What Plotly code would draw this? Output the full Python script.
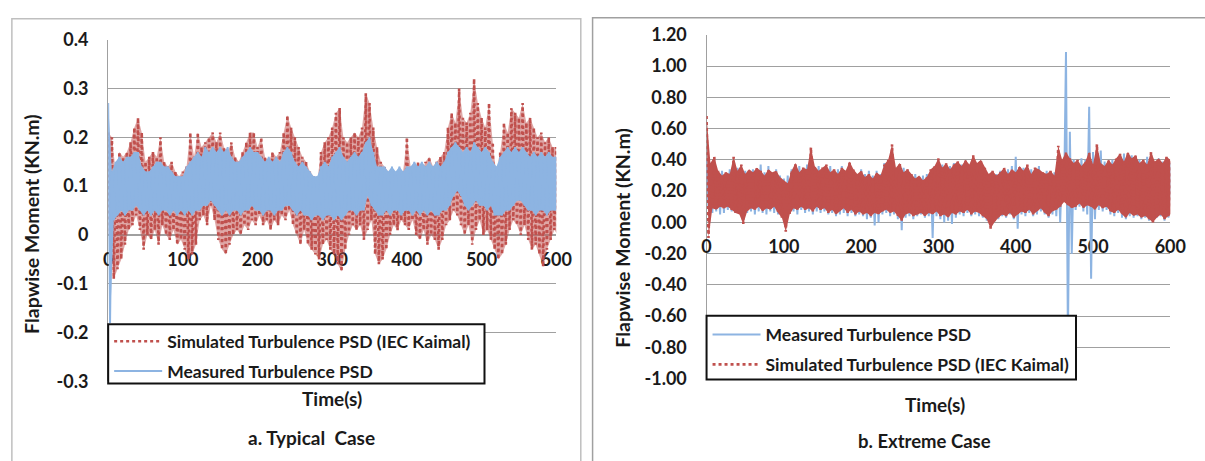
import plotly.graph_objects as go

# ---------------- data ----------------
# sample times (s); each sample holds the local peak (hi) and trough (lo)
TIME = list(range(0, 601, 5))

# Panel a - Typical case
A_SIM_HI = [0.21, 0.20, 0.13, 0.17, 0.16, 0.17, 0.19, 0.22, 0.24, 0.21,
            0.15, 0.16, 0.17, 0.16, 0.20, 0.15, 0.14, 0.15, 0.13, 0.12,
            0.13, 0.14, 0.21, 0.16, 0.21, 0.18, 0.19, 0.20, 0.21, 0.19,
            0.21, 0.18, 0.17, 0.19, 0.16, 0.15, 0.17, 0.19, 0.21, 0.21,
            0.18, 0.20, 0.16, 0.15, 0.17, 0.16, 0.17, 0.21, 0.245, 0.22,
            0.20, 0.18, 0.16, 0.15, 0.13, 0.12, 0.11, 0.17, 0.19, 0.20,
            0.22, 0.25, 0.26, 0.20, 0.19, 0.20, 0.21, 0.20, 0.22, 0.29,
            0.27, 0.22, 0.18, 0.15, 0.14, 0.13, 0.13, 0.12, 0.13, 0.13,
            0.20, 0.14, 0.13, 0.15, 0.13, 0.15, 0.16, 0.14, 0.15, 0.16,
            0.17, 0.22, 0.25, 0.23, 0.30, 0.24, 0.23, 0.25, 0.32, 0.27,
            0.24, 0.22, 0.27, 0.19, 0.12, 0.17, 0.23, 0.21, 0.26, 0.25,
            0.24, 0.27, 0.23, 0.24, 0.22, 0.20, 0.21, 0.19, 0.20, 0.18,
            0.18]
A_SIM_LO = [0.00, -0.09, -0.07, -0.05, -0.02, 0.01, 0.02, 0.04, 0.01, -0.03,
            0.00, -0.01, 0.01, -0.02, 0.02, 0.00, -0.01, 0.01, -0.02, -0.01,
            -0.03, -0.05, -0.04, -0.02, 0.03, 0.04, 0.02, 0.06, 0.03, -0.01,
            -0.03, -0.04, -0.02, 0.00, 0.01, 0.00, 0.02, 0.01, 0.03, 0.02,
            0.04, 0.02, 0.03, 0.01, 0.03, 0.02, 0.04, 0.03, 0.05, 0.02,
            0.00, -0.02, 0.01, -0.02, -0.03, -0.04, -0.05, -0.02, -0.01, -0.03,
            -0.04, -0.06, -0.075, -0.03, 0.00, 0.02, 0.01, 0.02, -0.01, 0.01,
            0.03, -0.04, -0.06, -0.05, -0.03, 0.00, 0.02, 0.01, 0.03, 0.02,
            0.01, 0.03, 0.00, -0.01, 0.01, -0.02, 0.00, -0.01, -0.03, -0.01,
            0.02, 0.03, 0.05, 0.04, 0.02, 0.00, 0.02, -0.02, 0.01, 0.03,
            0.00, 0.01, -0.01, -0.03, -0.05, -0.04, -0.02, 0.01, 0.03, 0.02,
            0.00, 0.02, -0.01, -0.03, -0.02, -0.04, -0.065, -0.03, -0.01, 0.01,
            0.00]
A_MEA_HI = [0.27, 0.13, 0.15, 0.16, 0.15, 0.16, 0.16, 0.17, 0.17, 0.14,
            0.13, 0.13, 0.14, 0.15, 0.15, 0.14, 0.14, 0.13, 0.12, 0.12,
            0.12, 0.14, 0.15, 0.16, 0.17, 0.16, 0.18, 0.17, 0.18, 0.17,
            0.18, 0.17, 0.18, 0.16, 0.15, 0.15, 0.16, 0.17, 0.18, 0.17,
            0.17, 0.16, 0.15, 0.16, 0.15, 0.16, 0.15, 0.17, 0.18, 0.17,
            0.15, 0.14, 0.15, 0.14, 0.13, 0.12, 0.12, 0.14, 0.15, 0.14,
            0.16, 0.17, 0.18, 0.16, 0.15, 0.16, 0.17, 0.16, 0.17, 0.19,
            0.20, 0.17, 0.14, 0.14, 0.14, 0.13, 0.14, 0.13, 0.14, 0.13,
            0.14, 0.14, 0.15, 0.14, 0.15, 0.14, 0.15, 0.14, 0.15, 0.14,
            0.15, 0.17, 0.18, 0.19, 0.18, 0.17, 0.18, 0.17, 0.19, 0.18,
            0.17, 0.18, 0.17, 0.15, 0.14, 0.16, 0.17, 0.18, 0.17, 0.18,
            0.17, 0.18, 0.17, 0.16, 0.17, 0.16, 0.17, 0.16, 0.17, 0.16,
            0.16]
A_MEA_LO = [-0.18, 0.03, 0.04, 0.05, 0.04, 0.05, 0.05, 0.06, 0.05, 0.04,
            0.05, 0.04, 0.05, 0.04, 0.05, 0.05, 0.04, 0.05, 0.04, 0.05,
            0.04, 0.05, 0.04, 0.05, 0.05, 0.06, 0.06, 0.07, 0.06, 0.05,
            0.04, 0.05, 0.04, 0.05, 0.05, 0.04, 0.05, 0.05, 0.06, 0.05,
            0.05, 0.04, 0.05, 0.05, 0.04, 0.05, 0.05, 0.06, 0.06, 0.05,
            0.04, 0.05, 0.04, 0.04, 0.03, 0.04, 0.04, 0.03, 0.04, 0.04,
            0.03, 0.04, 0.03, 0.04, 0.05, 0.05, 0.04, 0.05, 0.05, 0.08,
            0.06, 0.05, 0.04, 0.04, 0.05, 0.04, 0.05, 0.05, 0.04, 0.05,
            0.05, 0.04, 0.05, 0.04, 0.05, 0.04, 0.05, 0.04, 0.04, 0.05,
            0.05, 0.06, 0.08, 0.09, 0.08, 0.06, 0.05, 0.06, 0.07, 0.06,
            0.06, 0.05, 0.06, 0.04, 0.04, 0.04, 0.05, 0.05, 0.06, 0.07,
            0.07, 0.06, 0.05, 0.05, 0.04, 0.05, 0.05, 0.04, 0.05, 0.05,
            0.05]

# Panel b - Extreme case
B_SIM_HI = [0.68, 0.38, 0.42, 0.33, 0.30, 0.32, 0.31, 0.42, 0.33, 0.37,
            0.31, 0.34, 0.32, 0.35, 0.33, 0.30, 0.34, 0.32, 0.33, 0.29,
            0.27, 0.25, 0.33, 0.38, 0.32, 0.35, 0.34, 0.48, 0.36, 0.33,
            0.35, 0.37, 0.32, 0.34, 0.31, 0.35, 0.33, 0.39, 0.34, 0.31,
            0.33, 0.29, 0.31, 0.28, 0.32, 0.30, 0.37, 0.40, 0.50, 0.35,
            0.38, 0.32, 0.34, 0.31, 0.28, 0.30, 0.27, 0.29, 0.34, 0.36,
            0.41, 0.35, 0.38, 0.34, 0.37, 0.39, 0.36, 0.40, 0.37, 0.43,
            0.38, 0.40, 0.35, 0.31, 0.33, 0.30, 0.32, 0.35, 0.31, 0.34,
            0.32, 0.36, 0.33, 0.37, 0.31, 0.35, 0.34, 0.32, 0.31, 0.33,
            0.30, 0.49, 0.40, 0.45, 0.41, 0.38, 0.40, 0.36, 0.39, 0.45,
            0.37, 0.50, 0.38, 0.36, 0.40, 0.37, 0.41, 0.44, 0.39, 0.45,
            0.41, 0.43, 0.38, 0.40, 0.37, 0.45, 0.39, 0.41, 0.38, 0.42,
            0.40]
B_SIM_LO = [-0.10, 0.09, 0.08, 0.10, 0.09, 0.10, 0.08, 0.06, 0.05, -0.01,
            0.07, 0.09, 0.08, 0.10, 0.07, 0.09, 0.08, 0.10, 0.06, 0.03,
            -0.06, 0.05, 0.09, 0.08, 0.10, 0.08, 0.09, 0.07, 0.10, 0.08,
            0.09, 0.06, 0.08, 0.05, 0.07, 0.09, 0.06, 0.08, 0.05, 0.07,
            0.05, 0.06, 0.04, 0.06, 0.05, 0.07, 0.08, 0.06, 0.07, 0.04,
            0.01, 0.05, 0.06, 0.04, 0.05, 0.06, 0.04, 0.06, 0.05, 0.07,
            0.04, 0.05, 0.03, 0.06, 0.05, 0.07, 0.06, 0.08, 0.05, 0.07,
            0.06, 0.04, 0.02, -0.04, 0.00, 0.03, 0.05, 0.04, 0.06, 0.03,
            0.05, 0.07, 0.06, 0.08, 0.05, 0.07, 0.09, 0.06, 0.04, 0.07,
            0.08, 0.10, 0.13, 0.11, 0.09, 0.10, 0.12, 0.09, 0.11, 0.10,
            0.08, 0.11, 0.09, 0.10, 0.07, 0.06, 0.08, 0.05, 0.03, 0.06,
            0.04, 0.05, 0.03, 0.04, 0.02, 0.00, 0.03, 0.05, 0.02, 0.04,
            0.06]
B_MEA_HI = [0.40, 0.33, 0.36, 0.31, 0.33, 0.30, 0.34, 0.32, 0.35, 0.31,
            0.33, 0.30, 0.34, 0.31, 0.37, 0.32, 0.36, 0.31, 0.34, 0.30,
            0.28, 0.30, 0.34, 0.33, 0.36, 0.32, 0.37, 0.33, 0.35, 0.36,
            0.33, 0.35, 0.36, 0.32, 0.34, 0.36, 0.32, 0.35, 0.33, 0.30,
            0.34, 0.31, 0.33, 0.30, 0.33, 0.31, 0.38, 0.35, 0.36, 0.33,
            0.34, 0.35, 0.32, 0.30, 0.31, 0.29, 0.30, 0.31, 0.32, 0.35,
            0.33, 0.37, 0.34, 0.36, 0.38, 0.35, 0.37, 0.38, 0.36, 0.38,
            0.37, 0.35, 0.33, 0.30, 0.32, 0.31, 0.33, 0.32, 0.34, 0.36,
            0.42, 0.33, 0.35, 0.32, 0.34, 0.33, 0.36, 0.31, 0.33, 0.30,
            0.32, 0.36, 0.40, 1.09, 0.58, 0.40, 0.38, 0.41, 0.40, 0.74,
            0.45, 0.40, 0.46, 0.39, 0.38, 0.40, 0.39, 0.42, 0.44, 0.40,
            0.43, 0.42, 0.40, 0.39, 0.42, 0.40, 0.38, 0.41, 0.39, 0.40,
            0.38]
B_MEA_LO = [0.10, 0.06, 0.07, 0.05, 0.06, 0.08, 0.07, 0.06, 0.07, 0.05,
            0.06, 0.07, 0.05, 0.07, 0.06, 0.05, 0.07, 0.06, 0.05, 0.04,
            0.02, 0.06, 0.07, 0.05, 0.08, 0.06, 0.07, 0.05, 0.07, 0.06,
            0.07, 0.05, 0.06, 0.04, 0.05, 0.06, 0.04, 0.06, 0.04, 0.05,
            0.04, 0.02, 0.03, -0.02, 0.00, 0.05, 0.06, 0.04, 0.05, 0.02,
            -0.05, 0.03, 0.04, 0.02, 0.04, 0.05, 0.03, 0.04, -0.10, 0.04,
            0.02, 0.00, 0.01, -0.01, 0.03, 0.05, 0.04, 0.06, 0.04, 0.05,
            0.04, 0.03, 0.01, -0.02, 0.01, 0.02, 0.04, 0.03, 0.05, 0.02,
            -0.04, 0.05, 0.04, 0.06, 0.04, 0.05, 0.07, 0.05, 0.03, 0.05,
            0.04, 0.00, 0.15, -0.75, -0.20, 0.08, 0.10, 0.07, 0.05, -0.36,
            0.02, 0.08, 0.07, 0.08, 0.05, 0.04, 0.06, 0.03, 0.02, 0.04,
            0.03, 0.04, 0.02, 0.03, 0.01, 0.02, 0.03, 0.04, 0.01, 0.03,
            0.05]

X_TICKS = [0, 100, 200, 300, 400, 500, 600]
X_TICKTEXT = ["0", "100", "200", "300", "400", "500", "600"]
A_YTICKS = [0.4, 0.3, 0.2, 0.1, 0.0, -0.1, -0.2, -0.3]
A_YTICKTEXT = ["0.4", "0.3", "0.2", "0.1", "0", "-0.1", "-0.2", "-0.3"]
B_YTICKS = [1.2, 1.0, 0.8, 0.6, 0.4, 0.2, 0.0, -0.2, -0.4, -0.6, -0.8, -1.0]
B_YTICKTEXT = ["1.20", "1.00", "0.80", "0.60", "0.40", "0.20", "0.00",
               "-0.20", "-0.40", "-0.60", "-0.80", "-1.00"]

SIM_NAME = "Simulated Turbulence PSD (IEC Kaimal)"
MEA_NAME = "Measured Turbulence PSD"

# ---------------- styling ----------------
W, H = 1205, 461
RED = "#C0504D"
RED_FILL = "rgba(192,80,77,0.5)"
BLUE = "#8DB4E2"
GRID = "#A0A0A0"
TXT = "#1a1a1a"
FONT = "Lato"


def px(x):
    return x / W


def py(y):
    return 1 - y / H


def zigzag(t, hi, lo):
    half = (t[1] - t[0]) / 2
    xs, ys = [], []
    for ti, h, l in zip(t, hi, lo):
        xs += [ti, ti + half]
        ys += [h, l]
    return xs, ys


def band(t, hi, lo):
    half = (t[1] - t[0]) / 2
    xs = list(t) + [ti + half for ti in t][::-1]
    ys = list(hi) + list(lo)[::-1]
    return xs, ys


fig = go.Figure()


def add_series(hi, lo, name, color, fillcolor, dotted, xa, ya, leg, grp):
    if fillcolor:
        bx, by = band(TIME, hi, lo)
        fig.add_trace(go.Scatter(x=bx, y=by, mode="lines", fill="toself",
                                 fillcolor=fillcolor, line=dict(width=0),
                                 hoverinfo="skip", showlegend=False,
                                 xaxis=xa, yaxis=ya))
    zx, zy = zigzag(TIME, hi, lo)
    line = dict(color=color, width=2.6, dash="dot") if dotted else \
        dict(color=color, width=2)
    fig.add_trace(go.Scatter(x=zx, y=zy, mode="lines", name=name, line=line,
                             xaxis=xa, yaxis=ya, legend=leg,
                             legendgroup=grp))


# panel a: simulated drawn first, measured on top
add_series(A_SIM_HI, A_SIM_LO, SIM_NAME, RED, RED_FILL, True, "x", "y", "legend", "a1")
add_series(A_MEA_HI, A_MEA_LO, MEA_NAME, BLUE, BLUE, False, "x", "y", "legend", "a2")
# panel b: measured drawn first, simulated on top
add_series(B_MEA_HI, B_MEA_LO, MEA_NAME, BLUE, None, False, "x2", "y2", "legend2", "b1")
add_series(B_SIM_HI, B_SIM_LO, SIM_NAME, RED, RED, True, "x2", "y2", "legend2", "b2")

tickfont = dict(family=FONT, size=18, color=TXT, weight="bold")

# geometry (pixels)
A_L, A_R, A_T, A_B, A_ZERO = 105, 561, 29, 388, 234
B_L, B_R, B_T, B_B, B_ZERO = 714, 1186, 24, 385, 221
LEG_A = (105, 488, 328, 390)   # left, right, top, bottom
LEG_B = (714, 1090, 319, 386)

common_x = dict(range=[0, 600], tickvals=X_TICKS, ticktext=X_TICKTEXT,
                showgrid=False, zeroline=False, showline=True,
                linecolor=GRID, linewidth=1.3, ticks="", tickfont=tickfont,
                anchor="free", layer="below traces", ticklabelstandoff=8)
common_y = dict(showgrid=True, gridcolor=GRID, gridwidth=1.3, zeroline=False,
                showline=True, linecolor=GRID, linewidth=1.3, ticks="",
                tickfont=tickfont, layer="below traces", ticklabelstandoff=15)

legfont = dict(family=FONT, size=17.5, color=TXT, weight="bold")
legcommon = dict(xanchor="left", yanchor="top", bgcolor="rgba(0,0,0,0)",
                 borderwidth=0, font=legfont, traceorder="grouped",
                 tracegroupgap=4, itemwidth=48)

fig.update_layout(
    width=W, height=H,
    margin=dict(l=0, r=0, t=0, b=0),
    paper_bgcolor="white", plot_bgcolor="white",
    font=dict(family=FONT, color=TXT),
    xaxis=dict(domain=[px(A_L), px(A_R)], position=py(A_ZERO), **common_x),
    yaxis=dict(domain=[py(A_B), py(A_T)], range=[-0.3, 0.4], anchor="x",
               tickvals=A_YTICKS, ticktext=A_YTICKTEXT, **common_y),
    xaxis2=dict(domain=[px(B_L), px(B_R)], position=py(B_ZERO), **common_x),
    yaxis2=dict(domain=[py(B_B), py(B_T)], range=[-1.0, 1.2], anchor="x2",
                tickvals=B_YTICKS, ticktext=B_YTICKTEXT, **common_y),
    legend=dict(x=px(LEG_A[0] + 1), y=py(LEG_A[2] - 1), **legcommon),
    legend2=dict(x=px(LEG_B[0] + 1), y=py(LEG_B[2] + 1), **legcommon),
    showlegend=True,
)

annos = [
    dict(text="Flapwise Moment (KN.m)", x=px(27), y=py(223), textangle=-90, size=19.5),
    dict(text="Flapwise Moment (KN.m)", x=px(629), y=py(237), textangle=-90, size=19.5),
    dict(text="Time(s)", x=px(333), y=py(406), size=19),
    dict(text="Time(s)", x=px(947), y=py(412), size=19),
    dict(text="a. Typical  Case", x=px(312), y=py(447), size=19),
    dict(text="b. Extreme Case", x=px(936), y=py(450), size=18.5),
]
for a in annos:
    s = a.pop("size")
    a.update(xref="paper", yref="paper", showarrow=False,
             xanchor="center", yanchor="middle",
             font=dict(family=FONT, size=s, weight="bold", color=TXT))
fig.update_layout(annotations=annos)


def legend_box(b):
    l, r, t, bt = b
    return dict(type="rect", xref="paper", yref="paper", layer="above",
                x0=px(l), x1=px(r), y0=py(bt), y1=py(t),
                fillcolor="white", line=dict(color="#111111", width=2))


fig.update_layout(shapes=[
    dict(type="rect", xref="paper", yref="paper", x0=px(7), x1=px(586),
         y0=-0.05, y1=py(7), line=dict(color="#BFBFBF", width=1.5)),
    dict(type="rect", xref="paper", yref="paper", x0=px(598), x1=1.05,
         y0=-0.05, y1=py(6), line=dict(color="#A0A0A0", width=1.5)),
    legend_box(LEG_A),
    legend_box(LEG_B),
])

fig.write_html("out.html")
